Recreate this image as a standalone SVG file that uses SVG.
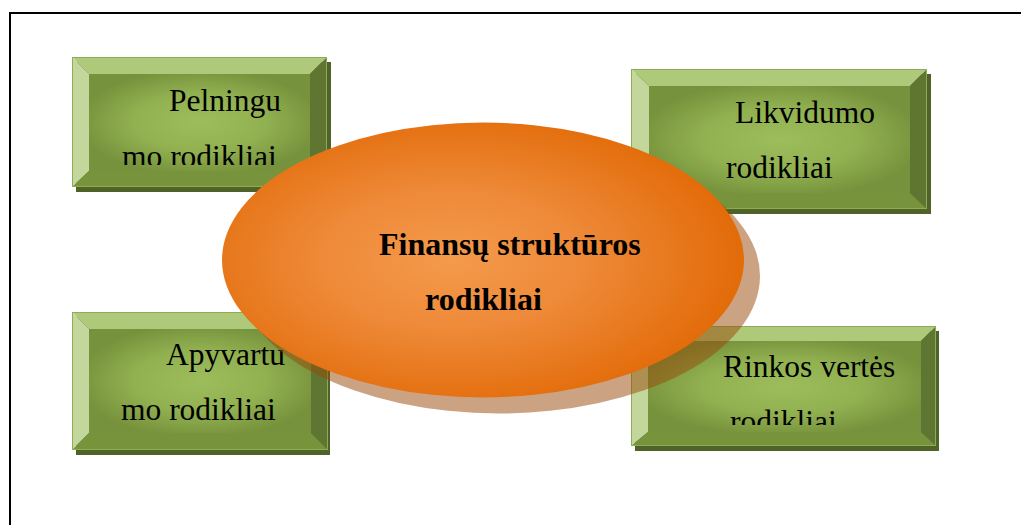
<svg xmlns="http://www.w3.org/2000/svg" width="1021" height="525" viewBox="0 0 1021 525">
  <style>
    .frame { fill: none; stroke: #000; stroke-width: 2; }
    .shadow { fill: #4f6228; }
    .bt { fill: #afc97a; }
    .bl { fill: #c3d69b; }
    .br { fill: #5f7632; }
    .bb { fill: #77933c; }
    .face { fill: url(#faceGrad); }
    .edge { fill: none; stroke: #8eab55; stroke-width: 1; }
    .lbl { font-family: "Liberation Serif", "Times New Roman", serif; font-size: 31.5px; fill: #000; }
    .title { font-family: "Liberation Serif", "Times New Roman", serif; font-size: 32px; font-weight: bold; fill: #000; }
  </style>
  <defs>
    <radialGradient id="faceGrad" cx="50%" cy="50%" r="55%">
      <stop offset="0" stop-color="#9dbc5b"/>
      <stop offset="0.55" stop-color="#91b050"/>
      <stop offset="1" stop-color="#76923c"/>
    </radialGradient>
    <radialGradient id="ovalGrad" cx="44%" cy="50%" r="55%">
      <stop offset="0" stop-color="#f49a4b"/>
      <stop offset="0.45" stop-color="#ee8a39"/>
      <stop offset="1" stop-color="#e36c0a"/>
    </radialGradient>
    <clipPath id="c1"><rect x="89" y="74" width="221" height="91"/></clipPath>
    <clipPath id="c2"><rect x="649" y="86" width="262" height="100"/></clipPath>
    <clipPath id="c3"><rect x="89" y="329" width="222" height="97"/></clipPath>
    <clipPath id="c4"><rect x="648" y="341" width="273" height="84"/></clipPath>
  </defs>

  <rect width="1021" height="525" fill="#fff"/>
  <path class="frame" d="M10,525 V13 H1021"/>

  <!-- top-left bevelled block -->
  <g id="pelningumo">
    <rect class="shadow" x="76" y="62" width="255" height="130"/>
    <polygon class="bt" points="72,57 327,57 310,74 89,74"/>
    <polygon class="bl" points="72,57 89,74 89,171 72,187"/>
    <polygon class="br" points="327,57 327,187 310,171 310,74"/>
    <polygon class="bb" points="72,187 89,171 310,171 327,187"/>
    <rect class="face" x="89" y="74" width="221" height="97"/>
    <rect class="edge" x="72.5" y="57.5" width="254" height="129"/>
    <g clip-path="url(#c1)">
      <text class="lbl" x="169" y="111">Pelningu</text>
      <text class="lbl" x="122" y="167">mo rodikliai</text>
    </g>
  </g>

  <!-- top-right bevelled block -->
  <g id="likvidumo">
    <rect class="shadow" x="635" y="74" width="296" height="140"/>
    <polygon class="bt" points="631,69 927,69 910,86 649,86"/>
    <polygon class="bl" points="631,69 649,86 649,193 631,209"/>
    <polygon class="br" points="927,69 927,209 910,193 910,86"/>
    <polygon class="bb" points="631,209 649,193 910,193 927,209"/>
    <rect class="face" x="649" y="86" width="261" height="107"/>
    <rect class="edge" x="631.5" y="69.5" width="295" height="139"/>
    <g clip-path="url(#c2)">
      <text class="lbl" x="735" y="123">Likvidumo</text>
      <text class="lbl" x="726" y="178">rodikliai</text>
    </g>
  </g>

  <!-- bottom-left bevelled block -->
  <g id="apyvartumo">
    <rect class="shadow" x="76" y="317" width="254" height="138"/>
    <polygon class="bt" points="72,312 328,312 311,329 89,329"/>
    <polygon class="bl" points="72,312 89,329 89,433 72,450"/>
    <polygon class="br" points="328,312 328,450 311,433 311,329"/>
    <polygon class="bb" points="72,450 89,433 311,433 328,450"/>
    <rect class="face" x="89" y="329" width="222" height="104"/>
    <rect class="edge" x="72.5" y="312.5" width="255" height="137"/>
    <g clip-path="url(#c3)">
      <text class="lbl" x="166" y="365">Apyvartu</text>
      <text class="lbl" x="121" y="420">mo rodikliai</text>
    </g>
  </g>

  <!-- bottom-right bevelled block -->
  <g id="rinkos">
    <rect class="shadow" x="635" y="331" width="304" height="120"/>
    <polygon class="bt" points="631,326 936,326 921,341 648,341"/>
    <polygon class="bl" points="631,326 648,341 648,432 631,446"/>
    <polygon class="br" points="936,326 936,446 921,432 921,341"/>
    <polygon class="bb" points="631,446 648,432 921,432 936,446"/>
    <rect class="face" x="648" y="341" width="273" height="91"/>
    <rect class="edge" x="631.5" y="326.5" width="304" height="119"/>
    <g clip-path="url(#c4)">
      <text class="lbl" x="723" y="377">Rinkos vertės</text>
      <text class="lbl" x="730" y="432">rodikliai</text>
    </g>
  </g>

  <!-- central oval with its cast shadow -->
  <g id="finansu">
    <ellipse cx="499" cy="276" rx="261" ry="137.5" fill="#984807" fill-opacity="0.5"/>
    <ellipse cx="483" cy="260" rx="261" ry="137.5" fill="url(#ovalGrad)"/>
    <text class="title" x="379" y="255">Finansų struktūros</text>
    <text class="title" x="425" y="310">rodikliai</text>
  </g>
</svg>
